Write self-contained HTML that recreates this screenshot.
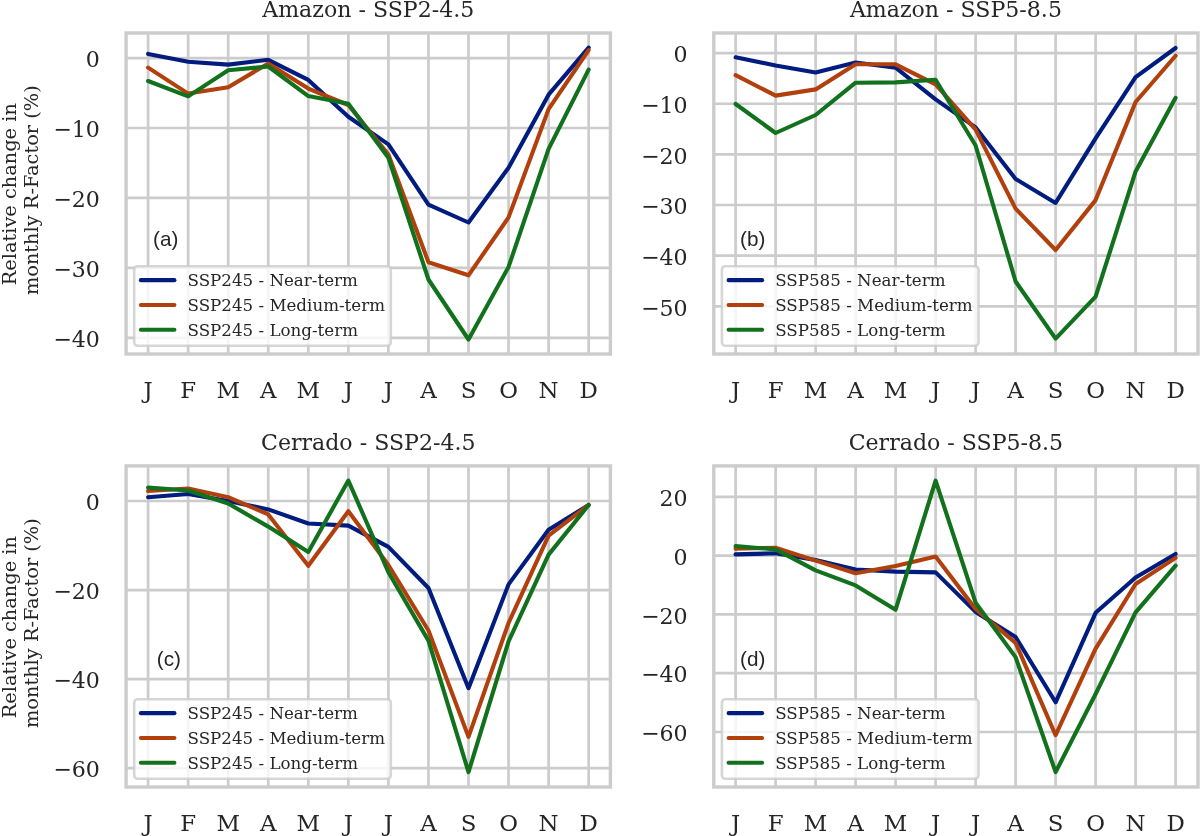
<!DOCTYPE html>
<html lang="en">
<head>
<meta charset="utf-8">
<title>Relative change in monthly R-Factor</title>
<style>
html,body{margin:0;padding:0;background:#ffffff;}
body{width:1200px;height:836px;overflow:hidden;}
svg{display:block;}
text{fill:#262626;}
.serif{font-family:'DejaVu Serif','Liberation Serif',serif;}
.sans{font-family:'DejaVu Sans','Liberation Sans',sans-serif;}
.lsans{font-family:'Liberation Sans',Arial,Helvetica,sans-serif;}
.grid{stroke:#cccccc;stroke-width:2.7;fill:none;stroke-linecap:butt;}
.spine{stroke:#cccccc;stroke-width:3.4;fill:none;stroke-linejoin:miter;}
.ln{fill:none;stroke-width:4.1;stroke-linejoin:round;stroke-linecap:round;}
.title{font-size:22.1px;text-anchor:middle;}
.xt{font-size:22.9px;text-anchor:middle;}
.yt{font-size:22.1px;text-anchor:end;}
.yl{font-size:19.35px;text-anchor:middle;}
.lg{font-size:16.7px;}
.tag{font-size:20.7px;}
</style>
</head>
<body>
<svg width="1200" height="836" viewBox="0 0 1200 836">
<rect x="0" y="0" width="1200" height="836" fill="#ffffff"/>
<g>
<text class="serif title" transform="translate(368.25,16.9) scale(1,1.05)">Amazon - SSP2-4.5</text>
<line class="grid" x1="148.1" y1="33" x2="148.1" y2="354"/>
<line class="grid" x1="188.15" y1="33" x2="188.15" y2="354"/>
<line class="grid" x1="228.2" y1="33" x2="228.2" y2="354"/>
<line class="grid" x1="268.25" y1="33" x2="268.25" y2="354"/>
<line class="grid" x1="308.3" y1="33" x2="308.3" y2="354"/>
<line class="grid" x1="348.35" y1="33" x2="348.35" y2="354"/>
<line class="grid" x1="388.4" y1="33" x2="388.4" y2="354"/>
<line class="grid" x1="428.45" y1="33" x2="428.45" y2="354"/>
<line class="grid" x1="468.5" y1="33" x2="468.5" y2="354"/>
<line class="grid" x1="508.55" y1="33" x2="508.55" y2="354"/>
<line class="grid" x1="548.6" y1="33" x2="548.6" y2="354"/>
<line class="grid" x1="588.65" y1="33" x2="588.65" y2="354"/>
<line class="grid" x1="126.1" y1="58.1" x2="610.4" y2="58.1"/>
<line class="grid" x1="126.1" y1="128" x2="610.4" y2="128"/>
<line class="grid" x1="126.1" y1="197.95" x2="610.4" y2="197.95"/>
<line class="grid" x1="126.1" y1="267.9" x2="610.4" y2="267.9"/>
<line class="grid" x1="126.1" y1="337.8" x2="610.4" y2="337.8"/>
<polyline class="ln" stroke="#001c7f" points="148.1,53.9 188.15,61.8 228.2,64.6 268.25,59.8 308.3,79.9 348.35,116.8 388.4,144.4 428.45,204.7 468.5,222.5 508.55,167.8 548.6,94.7 588.65,47.6"/>
<polyline class="ln" stroke="#b1400d" points="148.1,67.6 188.15,93.6 228.2,87.2 268.25,63.5 308.3,88.6 348.35,105 388.4,154.5 428.45,262.2 468.5,275.3 508.55,217.4 548.6,109.1 588.65,50.1"/>
<polyline class="ln" stroke="#12711c" points="148.1,81 188.15,96.4 228.2,70.2 268.25,66.5 308.3,96.1 348.35,103.7 388.4,157.8 428.45,279.5 468.5,339.5 508.55,266.9 548.6,148.9 588.65,69.6"/>
<rect class="spine" x="126.1" y="33" width="484.3" height="321"/>
<text class="serif xt" x="148.1" y="397.7">J</text>
<text class="serif xt" x="188.15" y="397.7">F</text>
<text class="serif xt" x="228.2" y="397.7">M</text>
<text class="serif xt" x="268.25" y="397.7">A</text>
<text class="serif xt" x="308.3" y="397.7">M</text>
<text class="serif xt" x="348.35" y="397.7">J</text>
<text class="serif xt" x="388.4" y="397.7">J</text>
<text class="serif xt" x="428.45" y="397.7">A</text>
<text class="serif xt" x="468.5" y="397.7">S</text>
<text class="serif xt" x="508.55" y="397.7">O</text>
<text class="serif xt" x="548.6" y="397.7">N</text>
<text class="serif xt" x="588.65" y="397.7">D</text>
<text class="serif yt" transform="translate(99.9,67.3) scale(1,1.035)">0</text>
<text class="serif yt" transform="translate(99.9,137.2) scale(1,1.035)">−10</text>
<text class="serif yt" transform="translate(99.9,207.15) scale(1,1.035)">−20</text>
<text class="serif yt" transform="translate(99.9,277.1) scale(1,1.035)">−30</text>
<text class="serif yt" transform="translate(99.9,347) scale(1,1.035)">−40</text>
<text class="serif yl" transform="translate(15.8,194.2) rotate(-90)" x="0" y="0">Relative change in</text>
<text class="serif yl" transform="translate(37.6,190.2) rotate(-90)" x="0" y="0">monthly R-Factor (%)</text>
<text class="lsans tag" x="153.05" y="246.3">(a)</text>
<rect x="134.2" y="266.2" width="256.6" height="79.6" rx="3.5" ry="3.5" fill="#ffffff" fill-opacity="0.8" stroke="#cccccc" stroke-opacity="0.8" stroke-width="2.6"/>
<line x1="140.9" y1="280.15" x2="174.4" y2="280.15" stroke="#001c7f" stroke-width="4.1" stroke-linecap="round"/>
<text class="serif lg" x="187.5" y="285.95">SSP245 - Near-term</text>
<line x1="140.9" y1="304.95" x2="174.4" y2="304.95" stroke="#b1400d" stroke-width="4.1" stroke-linecap="round"/>
<text class="serif lg" x="187.5" y="310.75">SSP245 - Medium-term</text>
<line x1="140.9" y1="329.75" x2="174.4" y2="329.75" stroke="#12711c" stroke-width="4.1" stroke-linecap="round"/>
<text class="serif lg" x="187.5" y="335.55">SSP245 - Long-term</text>
</g>
<g>
<text class="serif title" transform="translate(955.9,16.9) scale(1,1.05)">Amazon - SSP5-8.5</text>
<line class="grid" x1="735.6" y1="33" x2="735.6" y2="354"/>
<line class="grid" x1="775.6" y1="33" x2="775.6" y2="354"/>
<line class="grid" x1="815.6" y1="33" x2="815.6" y2="354"/>
<line class="grid" x1="855.6" y1="33" x2="855.6" y2="354"/>
<line class="grid" x1="895.6" y1="33" x2="895.6" y2="354"/>
<line class="grid" x1="935.6" y1="33" x2="935.6" y2="354"/>
<line class="grid" x1="975.6" y1="33" x2="975.6" y2="354"/>
<line class="grid" x1="1015.6" y1="33" x2="1015.6" y2="354"/>
<line class="grid" x1="1055.6" y1="33" x2="1055.6" y2="354"/>
<line class="grid" x1="1095.6" y1="33" x2="1095.6" y2="354"/>
<line class="grid" x1="1135.6" y1="33" x2="1135.6" y2="354"/>
<line class="grid" x1="1175.6" y1="33" x2="1175.6" y2="354"/>
<line class="grid" x1="713.8" y1="53.1" x2="1198" y2="53.1"/>
<line class="grid" x1="713.8" y1="103.74" x2="1198" y2="103.74"/>
<line class="grid" x1="713.8" y1="154.38" x2="1198" y2="154.38"/>
<line class="grid" x1="713.8" y1="205.02" x2="1198" y2="205.02"/>
<line class="grid" x1="713.8" y1="255.66" x2="1198" y2="255.66"/>
<line class="grid" x1="713.8" y1="306.3" x2="1198" y2="306.3"/>
<polyline class="ln" stroke="#001c7f" points="735.6,57.3 775.6,65.5 815.6,72.4 855.6,62.5 895.6,67.7 935.6,99.4 975.6,127.4 1015.6,178.9 1055.6,202.9 1095.6,138.3 1135.6,77.1 1175.6,48"/>
<polyline class="ln" stroke="#b1400d" points="735.6,75.2 775.6,95.6 815.6,89.4 855.6,64.3 895.6,64.3 935.6,84.3 975.6,129.6 1015.6,208.6 1055.6,250 1095.6,200.1 1135.6,102 1175.6,55.75"/>
<polyline class="ln" stroke="#12711c" points="735.6,104 775.6,133 815.6,115 855.6,82.7 895.6,82.4 935.6,79.7 975.6,145.5 1015.6,281.5 1055.6,338.6 1095.6,296.7 1135.6,171.4 1175.6,97.8"/>
<rect class="spine" x="713.8" y="33" width="484.2" height="321"/>
<text class="serif xt" x="735.6" y="397.7">J</text>
<text class="serif xt" x="775.6" y="397.7">F</text>
<text class="serif xt" x="815.6" y="397.7">M</text>
<text class="serif xt" x="855.6" y="397.7">A</text>
<text class="serif xt" x="895.6" y="397.7">M</text>
<text class="serif xt" x="935.6" y="397.7">J</text>
<text class="serif xt" x="975.6" y="397.7">J</text>
<text class="serif xt" x="1015.6" y="397.7">A</text>
<text class="serif xt" x="1055.6" y="397.7">S</text>
<text class="serif xt" x="1095.6" y="397.7">O</text>
<text class="serif xt" x="1135.6" y="397.7">N</text>
<text class="serif xt" x="1175.6" y="397.7">D</text>
<text class="serif yt" transform="translate(687.6,62.3) scale(1,1.035)">0</text>
<text class="serif yt" transform="translate(687.6,112.94) scale(1,1.035)">−10</text>
<text class="serif yt" transform="translate(687.6,163.58) scale(1,1.035)">−20</text>
<text class="serif yt" transform="translate(687.6,214.22) scale(1,1.035)">−30</text>
<text class="serif yt" transform="translate(687.6,264.86) scale(1,1.035)">−40</text>
<text class="serif yt" transform="translate(687.6,315.5) scale(1,1.035)">−50</text>
<text class="lsans tag" x="740.1" y="246.1">(b)</text>
<rect x="721.9" y="266.2" width="256.6" height="79.6" rx="3.5" ry="3.5" fill="#ffffff" fill-opacity="0.8" stroke="#cccccc" stroke-opacity="0.8" stroke-width="2.6"/>
<line x1="728.6" y1="280.15" x2="762.1" y2="280.15" stroke="#001c7f" stroke-width="4.1" stroke-linecap="round"/>
<text class="serif lg" x="775.2" y="285.95">SSP585 - Near-term</text>
<line x1="728.6" y1="304.95" x2="762.1" y2="304.95" stroke="#b1400d" stroke-width="4.1" stroke-linecap="round"/>
<text class="serif lg" x="775.2" y="310.75">SSP585 - Medium-term</text>
<line x1="728.6" y1="329.75" x2="762.1" y2="329.75" stroke="#12711c" stroke-width="4.1" stroke-linecap="round"/>
<text class="serif lg" x="775.2" y="335.55">SSP585 - Long-term</text>
</g>
<g>
<text class="serif title" transform="translate(368.25,449.8) scale(1,1.05)">Cerrado - SSP2-4.5</text>
<line class="grid" x1="148.1" y1="465.9" x2="148.1" y2="787"/>
<line class="grid" x1="188.15" y1="465.9" x2="188.15" y2="787"/>
<line class="grid" x1="228.2" y1="465.9" x2="228.2" y2="787"/>
<line class="grid" x1="268.25" y1="465.9" x2="268.25" y2="787"/>
<line class="grid" x1="308.3" y1="465.9" x2="308.3" y2="787"/>
<line class="grid" x1="348.35" y1="465.9" x2="348.35" y2="787"/>
<line class="grid" x1="388.4" y1="465.9" x2="388.4" y2="787"/>
<line class="grid" x1="428.45" y1="465.9" x2="428.45" y2="787"/>
<line class="grid" x1="468.5" y1="465.9" x2="468.5" y2="787"/>
<line class="grid" x1="508.55" y1="465.9" x2="508.55" y2="787"/>
<line class="grid" x1="548.6" y1="465.9" x2="548.6" y2="787"/>
<line class="grid" x1="588.65" y1="465.9" x2="588.65" y2="787"/>
<line class="grid" x1="126.1" y1="501" x2="610.4" y2="501"/>
<line class="grid" x1="126.1" y1="590.1" x2="610.4" y2="590.1"/>
<line class="grid" x1="126.1" y1="679.1" x2="610.4" y2="679.1"/>
<line class="grid" x1="126.1" y1="768.1" x2="610.4" y2="768.1"/>
<polyline class="ln" stroke="#001c7f" points="148.1,497.2 188.15,494 228.2,501 268.25,509.4 308.3,523.5 348.35,525.6 388.4,546.9 428.45,588 468.5,688.2 508.55,584.4 548.6,529.8 588.65,505"/>
<polyline class="ln" stroke="#b1400d" points="148.1,491 188.15,488.5 228.2,497.2 268.25,514.4 308.3,565.8 348.35,511.2 388.4,565 428.45,630.5 468.5,736.9 508.55,623 548.6,535.6 588.65,505"/>
<polyline class="ln" stroke="#12711c" points="148.1,487.6 188.15,490.5 228.2,503.5 268.25,526.6 308.3,551.9 348.35,480.6 388.4,572.2 428.45,640.6 468.5,772.1 508.55,641.4 548.6,554.6 588.65,505"/>
<rect class="spine" x="126.1" y="465.9" width="484.3" height="321.1"/>
<text class="serif xt" x="148.1" y="830.7">J</text>
<text class="serif xt" x="188.15" y="830.7">F</text>
<text class="serif xt" x="228.2" y="830.7">M</text>
<text class="serif xt" x="268.25" y="830.7">A</text>
<text class="serif xt" x="308.3" y="830.7">M</text>
<text class="serif xt" x="348.35" y="830.7">J</text>
<text class="serif xt" x="388.4" y="830.7">J</text>
<text class="serif xt" x="428.45" y="830.7">A</text>
<text class="serif xt" x="468.5" y="830.7">S</text>
<text class="serif xt" x="508.55" y="830.7">O</text>
<text class="serif xt" x="548.6" y="830.7">N</text>
<text class="serif xt" x="588.65" y="830.7">D</text>
<text class="serif yt" transform="translate(99.9,510.2) scale(1,1.035)">0</text>
<text class="serif yt" transform="translate(99.9,599.3) scale(1,1.035)">−20</text>
<text class="serif yt" transform="translate(99.9,688.3) scale(1,1.035)">−40</text>
<text class="serif yt" transform="translate(99.9,777.3) scale(1,1.035)">−60</text>
<text class="serif yl" transform="translate(15.8,627.15) rotate(-90)" x="0" y="0">Relative change in</text>
<text class="serif yl" transform="translate(37.6,623.15) rotate(-90)" x="0" y="0">monthly R-Factor (%)</text>
<text class="lsans tag" x="156.8" y="665.9">(c)</text>
<rect x="134.2" y="699.2" width="256.6" height="79.6" rx="3.5" ry="3.5" fill="#ffffff" fill-opacity="0.8" stroke="#cccccc" stroke-opacity="0.8" stroke-width="2.6"/>
<line x1="140.9" y1="713.15" x2="174.4" y2="713.15" stroke="#001c7f" stroke-width="4.1" stroke-linecap="round"/>
<text class="serif lg" x="187.5" y="718.95">SSP245 - Near-term</text>
<line x1="140.9" y1="737.95" x2="174.4" y2="737.95" stroke="#b1400d" stroke-width="4.1" stroke-linecap="round"/>
<text class="serif lg" x="187.5" y="743.75">SSP245 - Medium-term</text>
<line x1="140.9" y1="762.75" x2="174.4" y2="762.75" stroke="#12711c" stroke-width="4.1" stroke-linecap="round"/>
<text class="serif lg" x="187.5" y="768.55">SSP245 - Long-term</text>
</g>
<g>
<text class="serif title" transform="translate(955.9,449.8) scale(1,1.05)">Cerrado - SSP5-8.5</text>
<line class="grid" x1="735.6" y1="465.9" x2="735.6" y2="787"/>
<line class="grid" x1="775.6" y1="465.9" x2="775.6" y2="787"/>
<line class="grid" x1="815.6" y1="465.9" x2="815.6" y2="787"/>
<line class="grid" x1="855.6" y1="465.9" x2="855.6" y2="787"/>
<line class="grid" x1="895.6" y1="465.9" x2="895.6" y2="787"/>
<line class="grid" x1="935.6" y1="465.9" x2="935.6" y2="787"/>
<line class="grid" x1="975.6" y1="465.9" x2="975.6" y2="787"/>
<line class="grid" x1="1015.6" y1="465.9" x2="1015.6" y2="787"/>
<line class="grid" x1="1055.6" y1="465.9" x2="1055.6" y2="787"/>
<line class="grid" x1="1095.6" y1="465.9" x2="1095.6" y2="787"/>
<line class="grid" x1="1135.6" y1="465.9" x2="1135.6" y2="787"/>
<line class="grid" x1="1175.6" y1="465.9" x2="1175.6" y2="787"/>
<line class="grid" x1="713.8" y1="496.8" x2="1198" y2="496.8"/>
<line class="grid" x1="713.8" y1="555.65" x2="1198" y2="555.65"/>
<line class="grid" x1="713.8" y1="614.45" x2="1198" y2="614.45"/>
<line class="grid" x1="713.8" y1="673.2" x2="1198" y2="673.2"/>
<line class="grid" x1="713.8" y1="732" x2="1198" y2="732"/>
<polyline class="ln" stroke="#001c7f" points="735.6,554.4 775.6,553.3 815.6,560 855.6,569.5 895.6,571.6 935.6,572.4 975.6,611.9 1015.6,637 1055.6,702.3 1095.6,612.8 1135.6,577.5 1175.6,553.9"/>
<polyline class="ln" stroke="#b1400d" points="735.6,548.6 775.6,547.7 815.6,560.6 855.6,573.2 895.6,566 935.6,556.6 975.6,608.9 1015.6,642.9 1055.6,735.2 1095.6,648.7 1135.6,584 1175.6,557.9"/>
<polyline class="ln" stroke="#12711c" points="735.6,546.1 775.6,549.4 815.6,570.4 855.6,585.4 895.6,609.7 935.6,480.6 975.6,602.7 1015.6,657.1 1055.6,772.1 1095.6,694 1135.6,612.3 1175.6,565.6"/>
<rect class="spine" x="713.8" y="465.9" width="484.2" height="321.1"/>
<text class="serif xt" x="735.6" y="830.7">J</text>
<text class="serif xt" x="775.6" y="830.7">F</text>
<text class="serif xt" x="815.6" y="830.7">M</text>
<text class="serif xt" x="855.6" y="830.7">A</text>
<text class="serif xt" x="895.6" y="830.7">M</text>
<text class="serif xt" x="935.6" y="830.7">J</text>
<text class="serif xt" x="975.6" y="830.7">J</text>
<text class="serif xt" x="1015.6" y="830.7">A</text>
<text class="serif xt" x="1055.6" y="830.7">S</text>
<text class="serif xt" x="1095.6" y="830.7">O</text>
<text class="serif xt" x="1135.6" y="830.7">N</text>
<text class="serif xt" x="1175.6" y="830.7">D</text>
<text class="serif yt" transform="translate(687.6,506) scale(1,1.035)">20</text>
<text class="serif yt" transform="translate(687.6,564.85) scale(1,1.035)">0</text>
<text class="serif yt" transform="translate(687.6,623.65) scale(1,1.035)">−20</text>
<text class="serif yt" transform="translate(687.6,682.4) scale(1,1.035)">−40</text>
<text class="serif yt" transform="translate(687.6,741.2) scale(1,1.035)">−60</text>
<text class="lsans tag" x="740.1" y="666">(d)</text>
<rect x="721.9" y="699.2" width="256.6" height="79.6" rx="3.5" ry="3.5" fill="#ffffff" fill-opacity="0.8" stroke="#cccccc" stroke-opacity="0.8" stroke-width="2.6"/>
<line x1="728.6" y1="713.15" x2="762.1" y2="713.15" stroke="#001c7f" stroke-width="4.1" stroke-linecap="round"/>
<text class="serif lg" x="775.2" y="718.95">SSP585 - Near-term</text>
<line x1="728.6" y1="737.95" x2="762.1" y2="737.95" stroke="#b1400d" stroke-width="4.1" stroke-linecap="round"/>
<text class="serif lg" x="775.2" y="743.75">SSP585 - Medium-term</text>
<line x1="728.6" y1="762.75" x2="762.1" y2="762.75" stroke="#12711c" stroke-width="4.1" stroke-linecap="round"/>
<text class="serif lg" x="775.2" y="768.55">SSP585 - Long-term</text>
</g>
</svg>
</body>
</html>
